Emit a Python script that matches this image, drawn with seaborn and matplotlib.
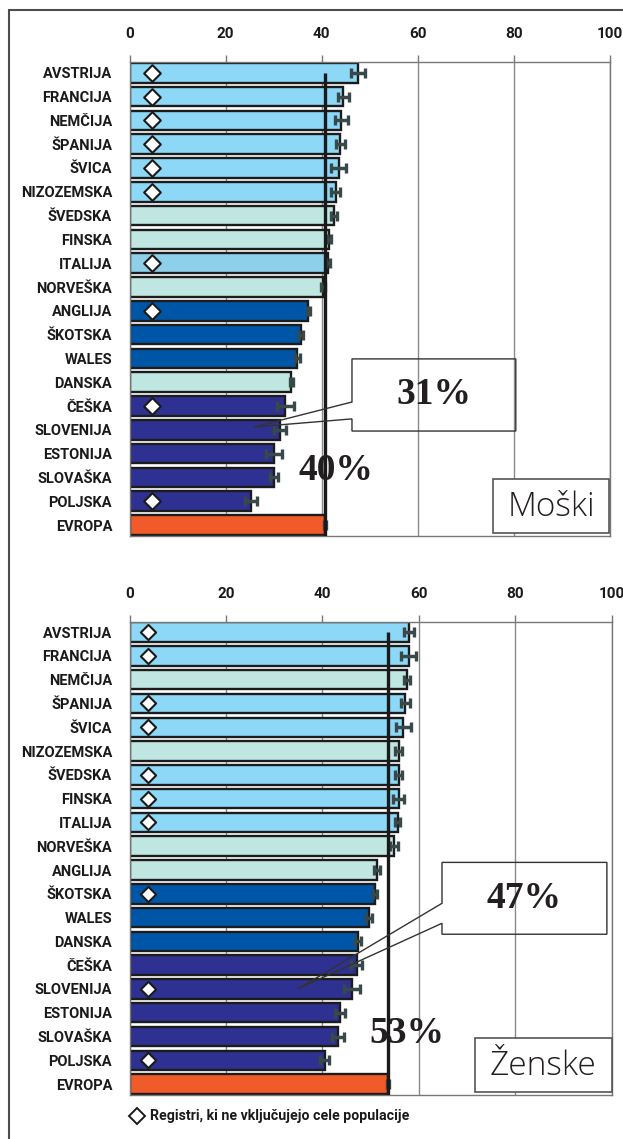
import numpy as np
import pandas as pd
import matplotlib.pyplot as plt
import seaborn as sns
from matplotlib.patches import Polygon, Rectangle
from matplotlib.lines import Line2D

# Podatki - moški
drzave_m = ['AVSTRIJA', 'FRANCIJA', 'NEMČIJA', 'ŠPANIJA', 'ŠVICA', 'NIZOZEMSKA',
            'ŠVEDSKA', 'FINSKA', 'ITALIJA', 'NORVEŠKA', 'ANGLIJA', 'ŠKOTSKA',
            'WALES', 'DANSKA', 'ČEŠKA', 'SLOVENIJA', 'ESTONIJA', 'SLOVAŠKA',
            'POLJSKA', 'EVROPA']
vrednosti_m = [47.5, 44.5, 44.1, 43.9, 43.5, 42.9, 42.5, 41.5, 41.3, 40.2,
               37.2, 35.7, 34.9, 33.7, 32.4, 31.3, 30.1, 30.0, 25.3, 40.6]
napake_m = [1.5, 1.2, 1.4, 0.9, 1.6, 0.9, 0.6, 0.5, 0.4, 0.4,
            0.3, 0.4, 0.5, 0.4, 1.8, 1.3, 1.7, 0.8, 1.2, 0.2]
skupine_m = ['svetla', 'svetla', 'svetla', 'svetla', 'svetla', 'svetla',
             'turkizna', 'turkizna', 'italija', 'turkizna', 'modra', 'modra',
             'modra', 'turkizna', 'vijolicna', 'vijolicna', 'vijolicna', 'vijolicna',
             'vijolicna', 'evropa']
registri_m = [True, True, True, True, True, True, False, False, True, False,
              True, False, False, False, True, False, False, False, True, False]

# Podatki - ženske
drzave_z = ['AVSTRIJA', 'FRANCIJA', 'NEMČIJA', 'ŠPANIJA', 'ŠVICA', 'NIZOZEMSKA',
            'ŠVEDSKA', 'FINSKA', 'ITALIJA', 'NORVEŠKA', 'ANGLIJA', 'ŠKOTSKA',
            'WALES', 'DANSKA', 'ČEŠKA', 'SLOVENIJA', 'ESTONIJA', 'SLOVAŠKA',
            'POLJSKA', 'EVROPA']
vrednosti_z = [58.0, 57.9, 57.6, 57.2, 56.8, 55.8, 55.8, 55.8, 55.6, 54.9,
               51.4, 50.9, 49.6, 47.4, 47.1, 46.1, 43.7, 43.2, 40.5, 53.6]
napake_z = [1.0, 1.6, 0.6, 0.9, 1.5, 0.8, 0.8, 1.2, 0.5, 0.8,
            0.6, 0.4, 0.6, 0.6, 1.2, 1.7, 1.0, 1.3, 0.9, 0.2]
skupine_z = ['svetla', 'svetla', 'turkizna', 'svetla', 'svetla', 'turkizna',
             'svetla', 'svetla', 'svetla', 'turkizna', 'turkizna', 'modra',
             'modra', 'modra', 'vijolicna', 'vijolicna', 'vijolicna', 'vijolicna',
             'vijolicna', 'evropa']
registri_z = [True, True, False, True, True, False, True, True, True, False,
              False, True, False, False, False, True, False, False, True, False]

# Referenčne vrednosti (Evropa) in deleži
evropa_m = 40.7
evropa_z = 53.7
delez_slo_m = '31%'
delez_evr_m = '40%'
delez_slo_z = '47%'
delez_evr_z = '53%'

barve = {'svetla': '#8dd7f7', 'turkizna': '#bfe6e1', 'italija': '#8ecfea',
         'modra': '#0056a6', 'vijolicna': '#2e3191', 'evropa': '#f15a29'}

sns.set_style('white')
plt.rcParams['font.family'] = ['Roboto', 'DejaVu Sans']
serif = ['Liberation Serif', 'DejaVu Serif']

fig = plt.figure(figsize=(6.23, 11.39), dpi=100)
ax1 = fig.add_axes([0.2079, 0.5294, 0.7712, 0.4159])
ax2 = fig.add_axes([0.2079, 0.0386, 0.7740, 0.4156])


def narisi(ax, drzave, vrednosti, napake, skupine, registri, evropa, diamant_x, diamant_s):
    df = pd.DataFrame({'drzava': drzave, 'vrednost': vrednosti,
                       'napaka': napake, 'skupina': skupine})
    ax.set_axisbelow(True)
    sns.barplot(data=df, x='vrednost', y='drzava', hue='skupina', palette=barve,
                dodge=False, legend=False, order=drzave, orient='h', width=0.82,
                saturation=1, edgecolor='#1c1c1c', linewidth=1.7, errorbar=None, ax=ax)
    pos = np.arange(len(drzave))
    ax.errorbar(df['vrednost'], pos, xerr=df['napaka'], fmt='none',
                ecolor='#394848', elinewidth=2.5, capsize=3.3, capthick=2.4, zorder=4)
    reg = [p for p, r in zip(pos, registri) if r]
    ax.scatter([diamant_x] * len(reg), reg, marker='D', s=diamant_s, facecolor='white',
               edgecolor='#1a1a1a', linewidth=1.5, zorder=5)
    ax.plot([evropa, evropa], [0, 19.46], color='#1a1a1a', lw=2.4, zorder=6,
            solid_capstyle='butt')

    ax.set_xlim(0, 100)
    ax.set_ylim(19.46, -0.44)
    ax.set_xticks([0, 20, 40, 60, 80, 100])
    ax.xaxis.tick_top()
    ax.xaxis.grid(True, color='#8a8a8a', lw=1)
    ax.yaxis.grid(False)
    ax.tick_params(axis='x', top=True, bottom=False, length=5, width=1,
                   color='#777777', pad=10, labelsize=11)
    ax.tick_params(axis='y', left=False, pad=9, labelsize=10.5)
    for lab in ax.get_xticklabels() + ax.get_yticklabels():
        lab.set_fontweight('bold')
        lab.set_color('#1a1a1a')
    for s in ax.spines.values():
        s.set_color('#777777')
        s.set_linewidth(1)
    ax.set_xlabel('')
    ax.set_ylabel('')


narisi(ax1, drzave_m, vrednosti_m, napake_m, skupine_m, registri_m, evropa_m, 4.6, 72)
narisi(ax2, drzave_z, vrednosti_z, napake_z, skupine_z, registri_z, evropa_z, 3.9, 60)


def oblacek(ax, x0, x1, y0, y1, ya, yb, tx, ty, besedilo):
    pts = [(x0, y0), (x1, y0), (x1, y1), (x0, y1), (x0, yb), (tx, ty), (x0, ya)]
    ax.add_patch(Polygon(pts, closed=True, facecolor='none', edgecolor='#333333',
                         lw=1, zorder=7, clip_on=False))
    ax.text((x0 + x1) / 2, (y0 + y1) / 2, besedilo, ha='center', va='center',
            fontsize=27, fontweight='bold', family=serif, color='#231f20', zorder=8)


def oznaka(ax, x0, x1, y0, y1, besedilo):
    ax.add_patch(Rectangle((x0, y0), x1 - x0, y1 - y0, facecolor='white',
                           edgecolor='#555555', lw=1.2, zorder=7, clip_on=False))
    ax.text((x0 + x1) / 2, (y0 + y1) / 2 + 0.05, besedilo, ha='center', va='center',
            fontsize=24, family=['Open Sans', 'DejaVu Sans'], fontweight='light',
            color='#231f20', zorder=8)


oblacek(ax1, 46.3, 80.4, 12.02, 15.05, 13.83, 14.54, 25.9, 14.88, delez_slo_m)
ax1.text(43.0, 16.7, delez_evr_m, ha='center', va='center', fontsize=27,
         fontweight='bold', family=serif, color='#231f20', zorder=8)
oznaka(ax1, 75.7, 99.8, 17.07, 19.34, 'Moški')

oblacek(ax2, 64.8, 99.0, 9.68, 12.7, 11.4, 12.24, 34.9, 15.0, delez_slo_z)
ax2.text(57.5, 16.86, delez_evr_z, ha='center', va='center', fontsize=27,
         fontweight='bold', family=serif, color='#231f20', zorder=8)
oznaka(ax2, 71.6, 100.0, 17.07, 19.34, 'Ženske')

# Okvir
fig.add_artist(Line2D([0.014, 0.014], [0.0, 0.9912], color='#4d4d4d', lw=1.5))
fig.add_artist(Line2D([0.014, 1.0], [0.9912, 0.9912], color='#4d4d4d', lw=1.5))

# Legenda
fig.add_artist(Line2D([0.220], [0.0202], marker='D', markersize=8,
                      markerfacecolor='white', markeredgecolor='#1a1a1a',
                      markeredgewidth=1.4, linestyle='none'))
fig.text(0.241, 0.0202, 'Registri, ki ne vključujejo cele populacije',
         ha='left', va='center', fontsize=10.2, fontweight='bold', color='#1a1a1a')

fig.savefig('out.png', dpi=100)
